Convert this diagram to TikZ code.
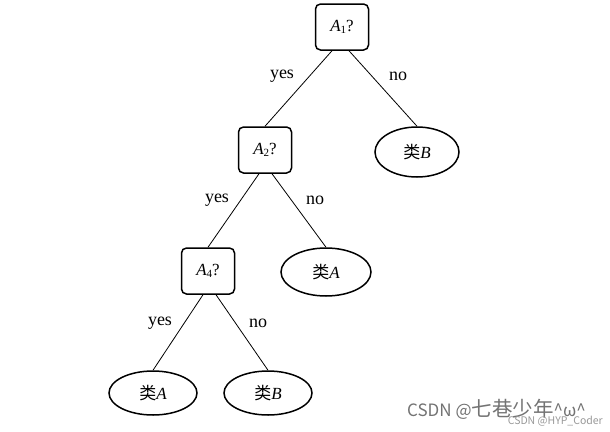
\documentclass[tikz,border=0pt]{standalone}
\usepackage{fontspec}
\setmainfont{Liberation Serif}
\newfontfamily\cjk{Noto Sans CJK SC}
\newfontfamily\wmfont{Noto Sans CJK SC}
\usetikzlibrary{shapes.geometric}
\tikzset{
  testbox/.style={draw, line width=1.5pt, rounded corners=5pt, minimum width=53pt, minimum height=46pt, inner sep=0pt, font=\fontsize{17}{20}\selectfont},
  leaf/.style={draw, line width=1.5pt, ellipse, minimum width=88pt, minimum height=44pt, inner sep=0pt, font=\fontsize{17}{20}\selectfont},
  branch/.style={line width=0.8pt},
  lab/.style={font=\fontsize{18}{21}\selectfont, inner sep=0pt},
}
\newcommand{\attr}[1]{\textit{A}\raisebox{-0.35ex}{\fontsize{11}{12}\selectfont #1}?}
\newcommand{\cls}[1]{{\cjk 类}\textit{#1}}
\begin{document}
\begin{tikzpicture}[x=1pt,y=-1pt]
\useasboundingbox (0,0) rectangle (610,431);
\fill[white] (0,0) rectangle (610,431);
\node[testbox] (a1) at (342,27) {\attr{1}};
\node[testbox] (a2) at (265,150) {\attr{2}};
\node[testbox] (a4) at (208,271) {\attr{4}};
\node[leaf, minimum width=84pt, minimum height=50pt] (b1) at (417,152) {\cls{B}};
\node[leaf, minimum width=90pt, minimum height=48pt] (c1) at (326,272) {\cls{A}};
\node[leaf] (c2) at (153,393) {\cls{A}};
\node[leaf] (b2) at (268,393) {\cls{B}};
\draw[branch] ([xshift=-10pt]a1.south) -- (a2.north);
\draw[branch] ([xshift=7pt]a1.south) -- (b1.north);
\draw[branch] ([xshift=-6pt]a2.south) -- (a4.north);
\draw[branch] ([xshift=7pt]a2.south) -- (c1.north);
\draw[branch] ([xshift=-5pt]a4.south) -- (c2.north);
\draw[branch] ([xshift=8pt]a4.south) -- (b2.north);
\node[lab] (y1) at (282,76) {yes};
\node[lab] (n1) at (398,76) {no};
\node[lab] (y2) at (217,200) {yes};
\node[lab] (n2) at (315,200) {no};
\node[lab] (y3) at (160,323) {yes};
\node[lab] (n3) at (258,323) {no};
\node[anchor=base west, inner sep=0pt, text=black!55, font=\wmfont\fontsize{17}{19}\selectfont] (wm1) at (407,416) {CSDN @{\fontsize{20.5}{22}\selectfont 七巷少年}\^{}ω\^{}};
\node[anchor=base east, inner sep=0pt, text=black!40, font=\wmfont\fontsize{10.5}{12}\selectfont] (wm2) at (603,424) {CSDN @HYP\_Coder};
\end{tikzpicture}
\end{document}
